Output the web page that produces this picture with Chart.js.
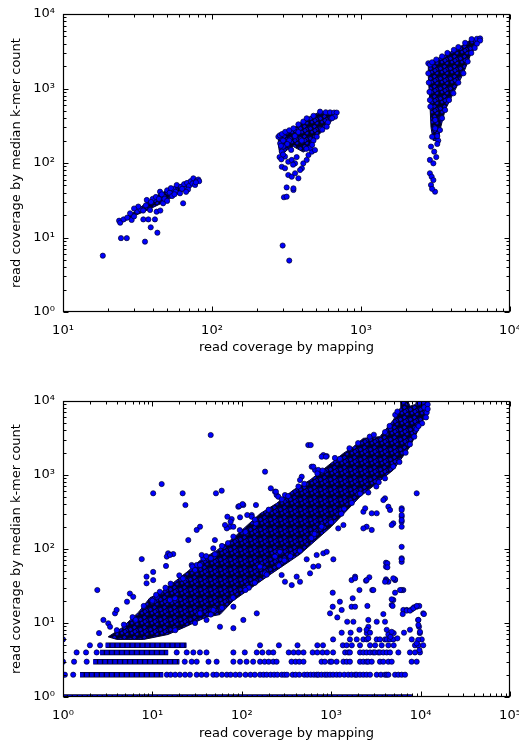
<!DOCTYPE html>
<html>
<head>
<meta charset="utf-8">
<script src="https://cdn.jsdelivr.net/npm/chart.js@4.4.1/dist/chart.umd.min.js"></script>
<style>
html, body { margin: 0; padding: 0; background: #fff; }
canvas { display: block; }
</style>
</head>
<body>
<canvas id="topChart" width="519" height="371"></canvas>
<canvas id="bottomChart" width="519" height="371"></canvas>
<script>

/* tick labels */
const topXTicks = [10, 100, 1000, 10000]
const topYTicks = [1, 10, 100, 1000, 10000]
const botXTicks = [1, 10, 100, 1000, 10000, 100000]
const botYTicks = [1, 10, 100, 1000, 10000]

/* TOP PANEL DATA (x, y) */

const topLow = [[18.5,5.7],[24.5,9.8],[26.8,9.8],[35.5,8.8],[38.8,13.7],[43,11.6],[34.6,17.5],[37.4,17.5],[41.4,17.5],[28.9,17.2],
  [23.8,16.8],[24.2,15.8],[25.5,17.5],[27,18.5],[28.2,21.1],[30,19.2],[31.5,22.5],[33,24],[34.5,23],[36.5,31.9],[36,27],[38.4,23.4],
  [40,33],[42,35],[42.5,22.2],[44.8,41.2],[46,38],[47,28.8],[48,33],[50,43],[52,40],[54,36],[55,45],[58,50.7],[57,41],[61,39.2],
  [62,48],[64,28.8],[65,52],[66,45],[68,54],[70,49],[72,57],[74,53],[75,62.3],[77,50.7],[79,58],[81,60],[82,57],[78,55],[69,44],
  [63,45],[53,46],[44,33],[39,30],[32,26],[30,24.5],[45,23],[50,31],[56,38],[67,41]]
const topLowCore = [[24,16.5],[30,22],[37,30],[45,39],[58,49],[75,60],[81,59],[77,52],[61,40],[47,29.5],[38,24],[31,20],[25,16],[24,16.5]]

const topMid = [[298,7.8],[330,4.9],[304,34.7],[317,35.3],[317,47],[352,43.4],[352,45.7],[294,89],[309,85],[325,104],[343,110],
  [361,99],[325,69],[343,65.5],[361,72.8],[380,62.3],[401,85],[390,80.5],[410,99],[432,110],[444,128],[468,142],[491,149],[300,166],
  [294,142],[309,122],[287,183],[279,225],[285,235],[295,245],[310,262],[330,275],[352,292],[380,330],[410,360],[432,398],[480,430],
  [531,489],[580,480],[620,478],[660,475],[687,475],[670,419],[640,400],[600,350],[589,307],[550,280],[505,225],[480,200],[455,160],
  [430,155],[470,175],[400,200],[380,260],[360,230],[330,200],[300,200],[290,170],[320,180],[284,120],[292,112],[300,130],[340,150],
  [370,120],[350,95]]
const topMidCore = [[279,225],[300,250],[352,292],[432,398],[531,489],[687,475],[670,419],[589,307],[505,225],[455,160],[410,140],
  [352,166],[320,150],[290,125],[282,150],[278,190],[279,225]]

const topHigh = [[2900,72.8],[2980,65.5],[3060,59],[2950,50.7],[3140,41.2],[3000,45],[2900,110],[3060,99],[2950,166],[3100,142],
  [3000,225],[3150,292],[2920,571],[3150,378],[2830,2180],[2900,2100],[3000,2250],[3200,2450],[3500,2700],[3800,3000],[4200,3300],
  [4500,3600],[5000,4100],[5530,4600],[6000,4650],[6300,4700],[6300,4400],[6000,4000],[5800,3500],[5500,3000],[5200,2300],[4870,1600],
  [4500,1200],[4170,863],[3900,700],[3670,514],[3500,400],[3390,277],[2830,1600],[2850,1200],[2880,900],[2900,700],[3300,200],
  [3250,180],[3200,120],[3250,230]]
const topHighCore = [[2830,2180],[3500,2700],[4500,3500],[5530,4600],[6300,4700],[6300,4250],[5500,3000],[4870,1600],[4170,863],
  [3670,514],[3390,277],[3300,200],[3050,200],[2950,300],[2900,633],[2830,1440],[2830,2180]]

/* BOTTOM PANEL DATA */

const bandCore = [[3.2,6.5],[4.5,8.5],[5.2,10],[7,14],[9.4,22],[12,25],[18.7,38],[25,50],[34,70],[52,95],[80,140],[160,300],
  [245,414],[377,627],[580,855],[891,1295],[1370,1960],[1770,2410],[2290,3130],[3510,3300],[4950,5540],[5900,8000],[6000,10000],
  [7200,10000],[7600,8500],[8800,9000],[9040,10000],[11700,10000],[11700,6140],[10700,5540],[7600,2410],[4950,1170],[2100,509],
  [1000,200],[448,85],[190,42],[80,20],[57,13],[40,12],[24,9],[15,7],[8,6],[4,6],[3.2,6.5]]

// integer k-mer counts: dense runs
const rowLevel = [1, 2, 3, 4, 5]
const rowFrom = [1, 1.55, 2.18, 2.6, 3.0]
const rowTo = [8000, 13.2, 20, 15, 24]

// sparse points sitting on the integer levels
const row2 = [1,1.05,1.3,14.5,16,18,20.3,23.2,26.3,31.3,35.5,40.3,48,52.3,60,68,75,85,95,110,125,140,160,175,190,210,230,250,280,
  300,320,370,400,440,500,540,590,640,690,720,780,850,900,970,1050,1150,1250,1400,1550,1690,1850,1930,2100,2290,2490,2720,3230,
  3600,4000,4180,4360,5180,5640,6140,6700]
const row3 = [1,1.33,1.84,23,27.5,31.3,42.4,52.3,80.5,95.6,113,134,160,180,200,225,245,360,400,440,490,780,850,970,1010,1150,
  1370,1490,1620,2100,2290,2490,2600,2840,3510,3830,4360,4750,7940,9040]
const row4 = [1.42,1.81,2.38,18.7,24.2,28.7,34,40.3,80.5,108,147,170,200,225,335,380,430,490,620,700,800,900,1050,1430,1550,1620,
  2100,2290,2490,2720,2960,3090,3370,3510,3830,4180,4550,5640,7600,8650,9840]
const row5 = [2.0,2.6,160,260,420,700,810,1350,1490,1700,2100,2720,3100,3670,4360,5000,8650,9440,10700]
const row6 = [1,1050,1620,1930,2290,2500,3230,3510,4000,4200,4550,4950,7960,10300]

const botScatter = [[44.9,3470],[12.7,755],[10.2,566],[21.8,566],[23.4,393],[51.4,566],[59.6,614],[91.4,373],[104,393],[144,393],
  [7.6,73],[2.42,27.9],[15,87.5],[17.1,85.5],[14.2,59],[8.6,42.3],[10.2,49],[25.2,132],[27.5,60.8],[31.3,60.8],[34.1,60.8],[37.1,74.8],
  [73.8,200],[80.5,147],[15.7,20.5],[17.9,21.6],[11.2,22.7],[12.1,26.4],
  [554,2540],[590,2540],[182,1110],[816,1860],[891,1800],[605,1295],[659,1170],[468,948],[448,855],[235,595],[245,537],[304,537],
  [9040,566],[4000,484],[4360,373],[6140,355],[6140,273],[6140,234],[6140,200],[4950,222],[4750,211],[3230,304],[2840,304],[2490,200],
  [2840,181],[2290,190],[6140,107],[6140,75],[6140,67],[4100,65.3],[4100,57.7],[1850,42.3],[1690,38],[4100,38.9],[4360,36.1],
  [5180,38],[6410,27.9],[2070,27.9],[4950,20.5],[4750,17.5],[6410,15],[7000,15],[7960,15.3],[8440,16.3],[9040,16.6],[9660,17],
  [10700,13.5],[9400,11],[9600,8.9],[9800,7.3],[9400,5.9],[9040,5.3],[9700,4.3],[4360,7],[4600,6.5],[5000,7.3],[5500,6.2],
  [2600,8.9],[2500,7.3],[2600,6.2],
  [4250,64],[4250,56.6],[1850,40.2],[2450,37.3],[2670,41.5],[4100,37.3],[5180,38.9],[1040,25.7],[2880,27.9],[6140,27.9],
  [1250,19.4],[1740,21.6],[4750,20.9],[5180,25.7],[1040,16.6],[1310,15],[1690,16.6],[1850,16.6],[2540,17],[4860,17],[970,13.5],
  [1170,11.9],[3830,13.2],[6310,13.2],[7000,14.7],[7620,14.7],[8300,15.8],[9060,17],[10900,13.2],[1510,10.4],[1770,10.4],[2600,11],
  [3230,10.4],[4000,10.4],[9440,11],[9440,9.4],[1310,7.4],[1650,7.4],[2070,8.1],[2490,8.1],[2720,7.4],[4180,8.1],[4750,7.6],
  [7600,8.1],[9840,7.6],[6520,7.4],
  [783,1770],[875,1770],[631,1295],[718,1170],[211,661],[241,595],[256,509],[93.8,381],[102,405],[129,288],[77,254],[68,190],
  [64.9,211],[50,132],[48,102],[35.6,83],[50,85],[1200,190],[1370,211],[2290,319],[2400,355],[3830,459],[4550,337],[6140,337],
  [6140,288],[6140,246],[6140,72.6],[1057,72.6],[688,83],[816,87.5],[891,91.6],[2490,38],[2960,27.9],[4000,36.1],[4950,40.2],
  [5890,27.9],[580,46.9],[631,57.7],[718,58.9],[532,72.6],[411,42.3],[448,36.1],[362,32.5],[279,44.5],[304,36.1],[235,79],
  [267,91.6],[160,57.7],[182,46.9],[69,273],[75,234],[80.5,200],[95.6,268],[115,288],[129,273],[144,222],[34.1,200],[31.3,181],
  [14.5,79],[15.7,83],[8.6,34.4],[10.2,38],[5.6,25],[6.1,22.6],[5.2,19.4],[3.82,13.5],[3.98,15],[3.21,9.9],[2.83,11],[2.53,7.3],
  [3.36,8.9],[34.1,13.5],[40.3,11],[48,15],[57,8.9],[80.5,8.5],[104,11],[147,13.5],[80.5,16.6],
  [6400,9800],[10700,9800],[11700,7000],[11000,8200],[7600,2600],[9000,4200],[10400,5000],[4950,1300],[3400,800],[2100,560],
  [1400,350],[1000,230],[600,140],[448,95],[300,70],[190,45],[120,30],[80,22],
  // ragged edges of the main band
  [4,8],[4.8,9.5],[6,12],[6.5,11],[8,17],[10,20],[11,24],[14,30],[16,34],[20,44],[22,40],[28,58],[30,52],[40,80],[45,75],
  [60,110],[70,120],[95,180],[110,170],[140,250],[200,340],[280,470],[330,520],[430,700],[500,760],[700,1050],[800,1150],
  [1100,1700],[1250,1650],[1600,2300],[2000,2700],[2700,3300],[3000,3500],[4000,3800],[4500,4600],[5200,6500],[5500,7200],
  [9600,9500],[12000,9000],[12000,7800],[11500,6000],[9500,4600],[8500,3300],[6800,2000],[5800,1500],[4000,900],[3200,700],
  [2600,580],[1700,420],[1300,300],[780,200],[650,160],[350,80],[260,60],[140,35],[110,28],[60,16],[45,13],[30,10],[18,8]]

/* HELPERS */

const FONT = "'DejaVu Sans', sans-serif"
const SUP = { '0': '\u2070', '1': '\u00b9', '2': '\u00b2', '3': '\u00b3', '4': '\u2074', '5': '\u2075' }

function powLabel(v) {
  const e = String(Math.round(Math.log10(v)))
  return '10' + e.split('').map(c => SUP[c]).join('')
}

const pairs = a => a.map(p => ({ x: p[0], y: p[1] }))
const onLevel = (xs, lvl) => xs.map(x => ({ x: x, y: lvl }))

// texture that looks like a heap of overlapping markers
function makeTexture() {
  const tile = document.createElement('canvas')
  tile.width = 10
  tile.height = 10
  const g = tile.getContext('2d')
  g.fillStyle = '#02022a'
  g.fillRect(0, 0, 10, 10)
  const spots = [[2, 2], [7, 3], [4.5, 6.5], [9.5, 8], [0.5, 8.5], [6.5, 9.5], [5, 0.5]]
  g.fillStyle = '#0000e0'
  g.strokeStyle = '#000018'
  g.lineWidth = 0.9
  for (const [sx, sy] of spots) {
    for (const dx of [-10, 0, 10]) for (const dy of [-10, 0, 10]) {
      g.beginPath()
      g.arc(sx + dx, sy + dy, 2.0, 0, Math.PI * 2)
      g.fill()
      g.stroke()
    }
  }
  return g.createPattern(tile, 'repeat')
}
const texture = makeTexture()

function markers(data) {
  return {
    data: data,
    pointRadius: 2.6,
    backgroundColor: '#0000ff',
    borderColor: '#00002a',
    borderWidth: 0.7,
    pointBackgroundColor: '#0000ff',
    pointBorderColor: '#00002a',
    pointBorderWidth: 0.7,
    clip: 0
  }
}

function blob(poly) {
  return {
    type: 'line',
    data: pairs(poly),
    fill: 'shape',
    backgroundColor: texture,
    borderColor: '#000030',
    borderWidth: 1,
    pointRadius: 0,
    tension: 0,
    clip: 0
  }
}

function rowLine(i, color, width, dash) {
  return {
    type: 'line',
    data: [{ x: rowFrom[i], y: rowLevel[i] }, { x: rowTo[i], y: rowLevel[i] }],
    borderColor: color,
    borderWidth: width,
    borderDash: dash,
    pointRadius: 0,
    fill: false,
    clip: 0
  }
}

function* logSteps(min, max) {
  for (let e = Math.floor(Math.log10(min)); e <= Math.ceil(Math.log10(max)); e++) {
    for (let m = 1; m < 10; m++) {
      const v = m * Math.pow(10, e)
      if (v >= min * 0.999 && v <= max * 1.001) yield { value: v, major: m === 1 }
    }
  }
}

/* inward ticks on all four sides + frame */
const frameTicks = {
  id: 'frameTicks',
  afterDatasetsDraw(chart) {
    const { ctx, chartArea: a } = chart
    const xs = chart.scales.x, ys = chart.scales.y
    const L = Math.round(a.left) + 0.5, R = Math.round(a.right) - 0.5
    const T = Math.round(a.top) + 0.5, B = Math.round(a.bottom) - 0.5
    ctx.save()
    ctx.strokeStyle = '#000'
    ctx.lineWidth = 1
    ctx.beginPath()
    for (const t of logSteps(xs.min, xs.max)) {
      const p = Math.round(xs.getPixelForValue(t.value)) + 0.5
      const len = t.major ? 5 : 3
      ctx.moveTo(p, B); ctx.lineTo(p, B - len)
      ctx.moveTo(p, T); ctx.lineTo(p, T + len)
    }
    for (const t of logSteps(ys.min, ys.max)) {
      const p = Math.round(ys.getPixelForValue(t.value)) + 0.5
      const len = t.major ? 5 : 3
      ctx.moveTo(L, p); ctx.lineTo(L + len, p)
      ctx.moveTo(R, p); ctx.lineTo(R - len, p)
    }
    ctx.stroke()
    ctx.lineWidth = 1.2
    ctx.strokeRect(L, T, R - L, B - T)
    ctx.restore()
  }
}

function logScales(xMin, xMax, xTicks, yMin, yMax, yTicks, xAxisH, titlePad) {
  const tickFont = { family: FONT, size: 13 }
  return {
    x: {
      type: 'logarithmic', position: 'bottom', min: xMin, max: xMax,
      grid: { display: false, drawTicks: false }, border: { display: false },
      ticks: { autoSkip: false, maxRotation: 0, padding: 11, color: '#000', font: tickFont, callback: v => powLabel(v) },
      afterBuildTicks: s => { s.ticks = xTicks.map(v => ({ value: v })) },
      afterFit: s => { s.height = xAxisH; s.paddingLeft = 0; s.paddingRight = 0 },
      title: { display: true, text: 'read coverage by mapping', color: '#000', font: tickFont, padding: { top: 0, bottom: titlePad } }
    },
    y: {
      type: 'logarithmic', position: 'left', min: yMin, max: yMax,
      grid: { display: false, drawTicks: false }, border: { display: false },
      ticks: { autoSkip: false, padding: 8, color: '#000', font: tickFont, callback: v => powLabel(v) },
      afterBuildTicks: s => { s.ticks = yTicks.map(v => ({ value: v })) },
      afterFit: s => { s.width = 63; s.paddingTop = 0; s.paddingBottom = 0 },
      title: { display: true, text: 'read coverage by median k-mer count', color: '#000', font: tickFont, padding: { top: 9, bottom: 0 } }
    }
  }
}

const common = {
  responsive: false,
  animation: false,
  devicePixelRatio: 1,
  events: [],
  plugins: { legend: { display: false }, tooltip: { enabled: false } }
}

/* TOP CHART */

new Chart(document.getElementById('topChart'), {
  type: 'scatter',
  data: {
    datasets: [
      markers(pairs(topLow)),
      markers(pairs(topMid)),
      markers(pairs(topHigh)),
      blob(topLowCore),
      blob(topMidCore),
      blob(topHighCore)
    ]
  },
  options: Object.assign({}, common, {
    layout: { padding: { top: 14, right: 9, bottom: 0, left: 0 } },
    scales: logScales(10, 10000, topXTicks, 1, 10000, topYTicks, 59, 16)
  }),
  plugins: [frameTicks]
})

/* BOTTOM CHART */

const rowSets = []
rowLevel.forEach((lvl, i) => {
  rowSets.push(rowLine(i, '#0000e0', 4.0, [3.6, 1.4]))
  rowSets.push(rowLine(i, '#02022a', 5.4, []))
})

new Chart(document.getElementById('bottomChart'), {
  type: 'scatter',
  data: {
    datasets: [
      markers(pairs(botScatter)),
      markers(onLevel(row2, 2)),
      markers(onLevel(row3, 3)),
      markers(onLevel(row4, 4)),
      markers(onLevel(row5, 5)),
      markers(onLevel(row6, 6)),
      ...rowSets,
      blob(bandCore)
    ]
  },
  options: Object.assign({}, common, {
    layout: { padding: { top: 30, right: 9, bottom: 0, left: 0 } },
    scales: logScales(1, 100000, botXTicks, 1, 10000, botYTicks, 45, 1)
  }),
  plugins: [frameTicks]
})

</script>
</body>
</html>
